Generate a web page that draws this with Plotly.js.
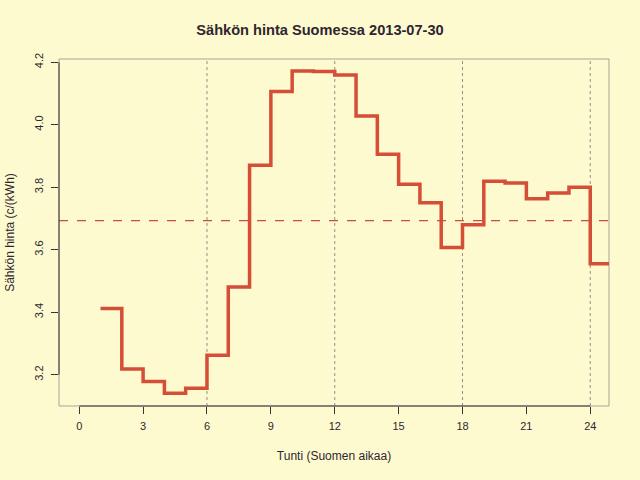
<!DOCTYPE html>
<html>
<head>
<meta charset="utf-8">
<script src="https://cdn.plot.ly/plotly-3.0.1.min.js"></script>
<style>
  html, body { margin: 0; padding: 0; background: #fefacf; }
  #chart { width: 640px; height: 480px; }
</style>
</head>
<body>
<div id="chart"></div>
<script>
// Tuntihinnat (c/kWh), tunti 1..24 — luettu kuvasta
const hours = [1, 2, 3, 4, 5, 6, 7, 8, 9, 10, 11, 12, 13, 14, 15, 16, 17, 18, 19, 20, 21, 22, 23, 24]
const prices = [3.412, 3.218, 3.178, 3.141, 3.157, 3.262, 3.481, 3.870, 4.106, 4.172, 4.170, 4.159,
                4.028, 3.905, 3.809, 3.750, 3.607, 3.680, 3.819, 3.813, 3.763, 3.781, 3.800, 3.555]
const meanPrice = 3.693
const xTicks = [0, 3, 6, 9, 12, 15, 18, 21, 24]
const yTicks = [3.2, 3.4, 3.6, 3.8, 4.0, 4.2]
const yTickLabels = ["3.2", "3.4", "3.6", "3.8", "4.0", "4.2"]
const gridHours = [6, 12, 18, 24]

const ink = "#2e2630"
const lineColor = "#d44e38"

// viimeinen porras jatkuu seuraavan tunnin loppuun
const stepX = hours.concat([hours[hours.length - 1] + 1])
const stepY = prices.concat([prices[prices.length - 1]])

const shapes = []
// R:n box() — vaalea kehys
shapes.push({ type: "rect", xref: "paper", yref: "paper", x0: 0, x1: 1, y0: 0, y1: 1,
  line: { color: "#a8a496", width: 1 }, layer: "below" })
// pystysuorat pisteviivat
gridHours.forEach((h) => {
  shapes.push({ type: "line", xref: "x", yref: "paper", x0: h, x1: h, y0: 0, y1: 1,
    line: { color: "#7a766e", width: 0.8, dash: "dot" }, layer: "below" })
})
// keskiarvo
shapes.push({ type: "line", xref: "paper", yref: "y", x0: 0, x1: 1, y0: meanPrice, y1: meanPrice,
  line: { color: "#cc4e3a", width: 1.3, dash: "dash" } })
// akseliviivat (vain tikkien väli, kuten R:n axis())
shapes.push({ type: "line", xref: "x", yref: "paper", x0: xTicks[0], x1: xTicks[xTicks.length - 1], y0: 0, y1: 0,
  line: { color: "#3a3236", width: 1 } })
shapes.push({ type: "line", xref: "paper", yref: "y", x0: 0, x1: 0, y0: yTicks[0], y1: yTicks[yTicks.length - 1],
  line: { color: "#3a3236", width: 1 } })

Plotly.newPlot("chart", [{
  x: stepX,
  y: stepY,
  type: "scatter",
  mode: "lines",
  line: { shape: "hv", color: lineColor, width: 3.5 },
  hoverinfo: "x+y"
}], {
  width: 640,
  height: 480,
  paper_bgcolor: "#fefacf",
  plot_bgcolor: "#fefacf",
  font: { family: "Liberation Sans, Arial, sans-serif", size: 12, color: ink },
  margin: { l: 59, r: 31, t: 59, b: 74 },
  showlegend: false,
  title: { text: "<b>Sähkön hinta Suomessa 2013-07-30</b>", x: 0.5, xanchor: "center", y: 0.938, yanchor: "middle",
    font: { size: 14.6, color: ink } },
  xaxis: {
    range: [-0.95, 24.88],
    tickmode: "array",
    tickvals: xTicks,
    ticks: "outside",
    ticklen: 7,
    tickcolor: "#3a3236",
    ticklabelstandoff: 3,
    showgrid: false,
    zeroline: false,
    showline: false,
    tickfont: { size: 11 },
    title: { text: "Tunti (Suomen aikaa)", font: { size: 12 }, standoff: 20 }
  },
  yaxis: {
    range: [3.10, 4.21],
    tickmode: "array",
    tickvals: yTicks,
    ticktext: yTickLabels,
    tickangle: -90,
    ticks: "outside",
    ticklen: 7,
    tickcolor: "#3a3236",
    ticklabelstandoff: 4,
    showgrid: false,
    zeroline: false,
    showline: false,
    tickfont: { size: 11 },
    title: { text: "Sähkön hinta (c/(kWh)", font: { size: 12 }, standoff: 15 }
  },
  shapes: shapes
}, { displayModeBar: false, staticPlot: true })
</script>
</body>
</html>
